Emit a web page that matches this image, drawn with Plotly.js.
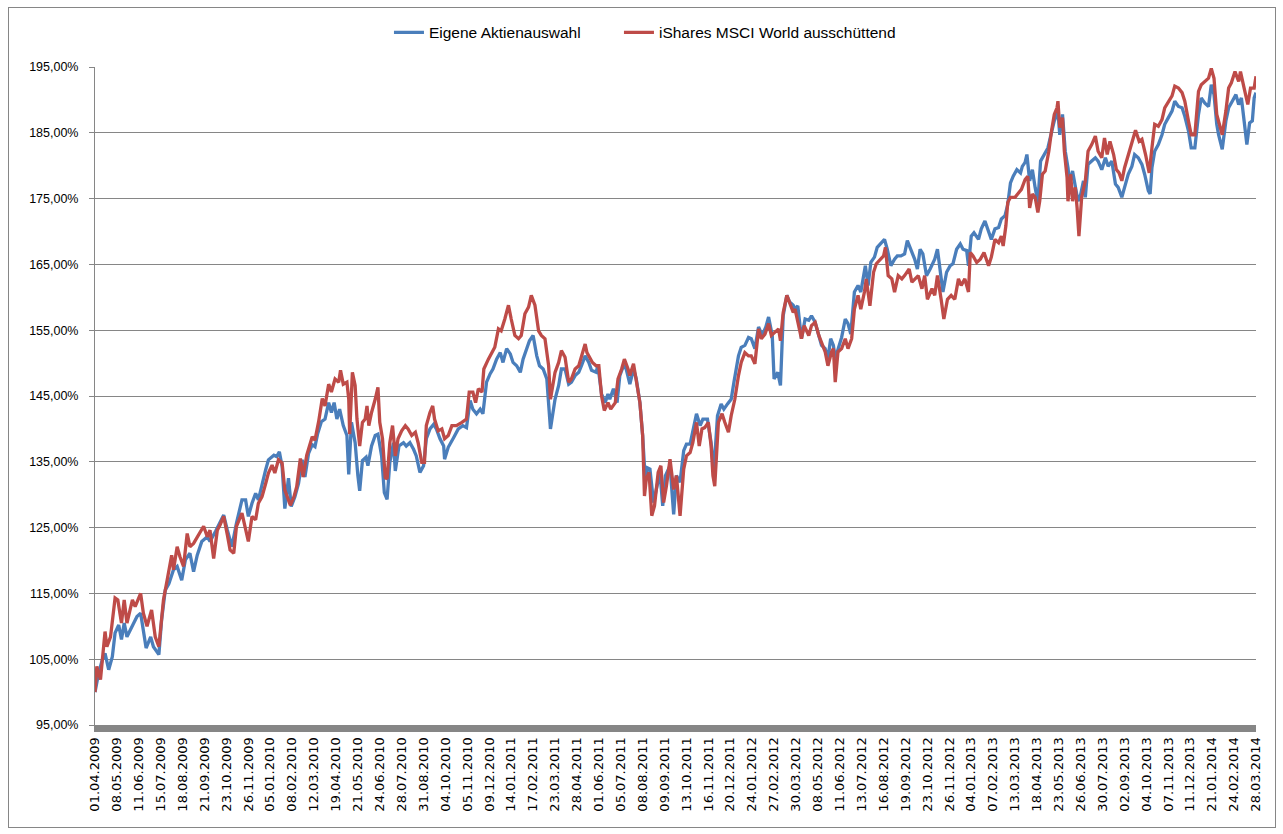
<!DOCTYPE html>
<html>
<head>
<meta charset="utf-8">
<script src="https://cdn.plot.ly/plotly-3.0.1.min.js"></script>
<style>
  body { margin: 0; background: #ffffff; }
  #wrap { position: relative; width: 1283px; height: 834px; }
  #chart { position: absolute; left: 0; top: 0; width: 1283px; height: 834px; }
  #frame { position: absolute; left: 8px; top: 7px; width: 1266px; height: 819px; border: 1px solid #868686; pointer-events: none; }
</style>
</head>
<body>
<div id="wrap"><div id="chart"></div><div id="frame"></div></div>
<script>
// Trading-day tick labels (every 24 trading days)
const tickLabels = ["01.04.2009","08.05.2009","11.06.2009","15.07.2009","18.08.2009","21.09.2009","23.10.2009","26.11.2009",
"05.01.2010","08.02.2010","12.03.2010","19.04.2010","21.05.2010","24.06.2010","28.07.2010","31.08.2010","04.10.2010","05.11.2010","09.12.2010",
"14.01.2011","17.02.2011","23.03.2011","28.04.2011","01.06.2011","05.07.2011","08.08.2011","09.09.2011","13.10.2011","16.11.2011","20.12.2011",
"24.01.2012","27.02.2012","30.03.2012","08.05.2012","11.06.2012","13.07.2012","16.08.2012","19.09.2012","23.10.2012","26.11.2012",
"04.01.2013","07.02.2013","13.03.2013","18.04.2013","23.05.2013","26.06.2013","30.07.2013","02.09.2013","04.10.2013","07.11.2013","11.12.2013",
"21.01.2014","24.02.2014","28.03.2014"];
const tickStep = 24;

const yTickVals = [95,105,115,125,135,145,155,165,175,185,195];

// Series 1: Eigene Aktienauswahl (trading-day index, value in %)
const ownIdx = [0,4,8,11,15,19,22,26,29,32,35,39,42,46,50,53,56,61,64,70,73,77,81,86,90,95,99,104,108,112,117,123,126,132,137,141,145,150,155,161,165,168,172,176,179,183,187,190,196,199,202,205,208,212,215,219,223,227,230,234,238,241,244,248,
252,256,259,262,265,268,272,276,278,281,285,288,290,293,297,299,303,307,310,314,317,320,323,327,329,333,338,341,345,349,352,356,360,363,367,371,374,378,382,383,387,393,398,403,407,411,414,418,422,425,429,433,436,440,444,447,451,455,458,462,466,469,473,476,480,484,487,491,495,499,504,508,511,515,
519,522,526,530,533,537,541,544,549,551,555,559,562,564,568,572,575,579,582,586,590,593,597,600,603,605,608,612,615,619,622,625,630,634,637,641,645,648,652,655,659,663,666,671,675,678,682,686,689,693,697,700,705,708,712,716,719,723,727,731,735,738,742,744,748,751,754,758,761,765,
767,770,774,778,782,785,789,793,796,800,803,806,809,811,814,818,822,825,828,832,836,839,844,847,850,854,857,861,865,868,872,876,879,883,887,890,894,898,901,904,907,911,915,920,923,927,929,933,937,940,944,948,951,955,957,960,963,968,971,975,979,982,986,990,993,997,1000,1003,1006,1010,1014,1016,1019,
1021,1024,1027,1030,1033,1036,1040,1044,1047,1051,1055,1057,1060,1063,1066,1068,1071,1074,1077,1080,1083,1085,1088,1092,1096,1099,1103,1107,1110,1114,1118,1121,1125,1128,1132,1136,1139,1143,1147,1150,1154,1156,1158,1161,1165,1169,1172,1176,1180,1183,1187,1191,1194,1198,1201,1205,1209,1212,1216,1220,1223,1226,1229,1231,1235,1239,1242,1246,1250,1253,1256,1259,1262,1265,1268,1270,1272];
const ownVal = [100,102.9,104.9,105.9,103.4,105.4,109,110.2,108,110.5,108.4,109.5,110.5,111.5,112,109,106.7,108.4,106.9,105.7,111,115.5,116.5,118.6,119.1,117,120.1,121.1,118.3,120.8,122.9,123.6,122.9,124.4,125.7,126.9,124.6,122.1,125.7,129.2,129.2,126.7,128.7,130.2,129.2,131.7,133.8,135.3,136,135.8,136.5,134.3,127.9,132.5,128.2,129.7,131.7,135.3,132.7,136.3,137.6,137.3,139.3,141.1,
141.5,144,142.5,144,141.5,143,140.5,139,133.1,141,137.9,132.9,130.6,135.2,135.7,134.4,137.4,139,139.2,135.9,130.3,129.3,134.9,137.9,133.6,137.4,137.9,137.4,137.9,136.9,135.9,133.4,134.4,138.5,140,140.7,140,138.5,137.4,135.4,137.2,138.7,140,140.5,140.2,144.3,143,142.3,143,142.3,147.1,148.4,149.1,150.6,151.6,150.1,152.2,151.4,150.1,149.6,148.6,150.6,152.4,153.4,154.2,151.1,149.6,149.1,147.6,140,144.5,146.6,149.1,149.1,
146.8,147.1,148.1,148.6,149.6,151.1,150.1,148.9,148.6,149.6,145.3,144,145.3,144.5,146.1,144,148.1,149.6,149.1,146.8,149.1,147.6,144,139,131.9,134.1,133.9,128.8,130.8,133.4,128.3,132.9,134.4,127,132.9,131.9,136.7,137.7,137.7,139.5,142.3,140.5,141.5,141.5,137.9,133.4,142,143.8,143,143.8,144.5,147.1,151.1,152.4,152.7,153.9,153.7,152.2,155.5,154.2,155.5,157,154.2,147.6,148.6,146.6,157.2,160.3,159.3,158.8,
158.2,158.7,153.7,156.7,156.5,157.2,156.2,154.2,152.7,152.2,150.7,153.7,152.7,150.7,152.2,153.9,156.7,156,154.4,160.8,161.8,160.8,164.8,161.8,165.3,166.1,167.6,168.3,168.8,167.3,164.8,165.8,166.3,166.3,166.6,168.6,167.3,165.8,164.3,167.3,166.6,163.3,164.3,165.8,167.3,162.8,160.8,163.8,164.8,165.1,167.3,168.1,167.3,167.1,164.8,169.3,169.8,168.8,170.4,171.6,169.8,168.8,170.4,170.6,171.9,172.4,174.1,177.4,178.4,179.4,178.9,179.9,180.5,
181.7,177.7,179.4,176.7,174.4,180.7,181.7,182.7,184.5,186.8,188.3,184.7,187.8,182.2,179.7,177.2,179.2,177.2,174.6,175.7,177.7,175.2,180.2,180.7,181.2,180.7,179.4,181.2,179.9,180.7,177.2,176.7,175.2,176.7,178.7,179.9,181.7,181.2,180.2,178.7,176.2,175.7,179.7,182.2,183.2,184.7,186.3,187.3,188.3,189.8,189,188.8,187.5,185.3,182.7,182.7,187.8,190.3,189.5,189,192.3,190.8,186.3,184.7,182.5,186.8,188.8,189.8,190.8,189.3,190.3,186.8,183.2,186.5,186.8,190.3,191.1];

// Series 2: iShares MSCI World ausschüttend
const msciIdx = [0,2,6,8,11,13,17,22,25,29,32,35,41,44,50,53,57,62,66,70,75,79,84,86,90,93,97,101,104,108,114,119,123,126,130,134,137,141,145,148,152,155,161,165,168,172,176,179,183,187,190,194,197,201,205,208,214,218,221,225,228,232,238,241,245,249,
252,256,259,263,267,269,272,276,278,279,282,285,287,290,293,296,298,300,303,307,310,312,315,318,320,323,326,329,332,336,340,343,347,351,354,358,361,363,367,370,372,376,380,383,387,391,396,402,407,410,414,417,420,424,426,431,435,438,442,445,449,453,456,460,464,467,471,475,478,482,486,489,493,497,499,504,508,511,515,
519,522,526,530,533,537,539,542,545,549,552,555,558,562,565,570,573,577,580,584,586,590,593,597,600,602,604,607,610,613,617,620,623,626,630,634,637,641,645,648,652,655,659,662,665,668,672,675,677,679,683,687,690,694,697,701,705,708,712,716,719,723,727,730,734,738,741,745,749,751,754,758,761,765,
767,771,774,777,782,785,789,793,796,800,803,807,809,811,814,818,822,825,829,832,836,839,843,845,849,853,856,860,864,866,869,873,876,880,884,887,892,895,898,902,906,909,912,917,920,923,927,930,934,938,942,946,949,953,957,959,962,966,970,974,979,982,986,990,993,995,998,1000,1003,1008,1012,1015,1019,
1022,1024,1027,1030,1033,1035,1038,1041,1045,1048,1051,1054,1055,1057,1060,1062,1065,1066,1069,1071,1074,1076,1078,1081,1085,1088,1092,1096,1099,1103,1106,1109,1112,1116,1119,1122,1125,1128,1132,1136,1140,1144,1147,1151,1155,1158,1161,1165,1169,1172,1176,1180,1183,1187,1191,1194,1198,1201,1205,1209,1212,1216,1220,1223,1226,1229,1231,1235,1239,1242,1245,1249,1253,1255,1259,1263,1266,1270,1272];
const msciVal = [100,103.9,101.9,105.4,109.2,106.9,108.4,114.3,114,110.5,114,110.5,114,113,115,112,110,112.5,108.4,106.9,114,117,120.8,118.6,122.1,120.6,119.1,124.1,122.1,122.6,124.1,125.2,123.6,124.6,120.3,124.6,125.4,126.7,123.9,121.6,121.1,125.2,127.2,124.9,122.9,126.7,126.2,128.7,129.7,131.7,133.3,134.5,133.3,135.3,134.8,130.7,128.4,129.7,131.2,135.5,132.7,136,138.8,138.3,141.1,144.6,
143.5,146.8,145.6,147.6,147.1,148.9,146.8,147.1,144.5,139.2,148.6,146.6,141.5,137.4,141,141.5,143.5,140.5,142.5,144.5,146.3,141,138.5,132.6,132.4,137.9,140.5,135.9,138.5,139.7,140.5,140,139,139.5,137.9,134.9,134.9,140.5,142.5,143.5,141.5,139.7,140,138.5,139,140.5,140.5,141,141.5,145.6,145.6,144,146.1,145.6,149.1,150.6,151.6,152.4,155.2,154.9,156.7,158.8,156.7,154.2,153.7,154.2,157.5,158.5,160.3,158.8,154.9,154.2,153.7,149.6,144.5,148.6,150.1,151.9,150.9,
147.1,147.6,149.1,149.6,150.9,152.9,151.6,150.9,150.1,149.6,149.6,145,142.8,144,143,144,147.6,149.1,150.6,149.1,148.1,149.9,147.6,144,139,129.8,132.4,133.4,126.8,128.3,133.4,134.4,128.8,131.3,135.4,130.8,132.9,126.8,133.9,135.9,136.4,137.9,141,137.4,140,140.2,141,137.4,132.9,131.3,141,142.3,141,139.5,142,144.5,148.1,150.1,151.6,151.1,151.1,149.9,155.2,153.7,154.4,156,154.2,154.7,155.2,153.4,157.7,160.3,159.3,157.7,
158.2,155.7,153.7,155.7,154.2,155.7,156.2,154.2,153.2,151.7,149.6,151.7,152.2,147.1,151.7,152.2,153.7,152.2,153.7,158.2,160.3,158.2,160.8,162.8,158.7,163.8,165.1,165.8,166.3,167.6,163.3,162.8,160.8,163.3,162.8,163.3,164.3,162.3,162.8,163.3,161.3,163.3,159.7,161.3,160.3,163.3,159.7,156.7,159.7,160.3,159.7,162.8,161.8,162.8,160.8,166.8,166.3,165.3,165.8,166.8,164.8,166.1,168.8,168.3,169.3,167.8,170.9,174.4,175.2,175.2,175.9,176.4,177.9,
178.4,173.6,175.7,175.2,172.9,174.6,178.7,179.2,182.2,185.3,187.8,188.8,189.8,185.8,187.3,182.2,178.2,174.6,178.7,174.6,176.7,173.6,169.3,175.2,177.7,182.2,183.2,184.5,182.2,181.2,184.2,181.7,183.7,181.7,179.4,178.9,177.7,179.7,181.7,183.7,185.4,183.7,184,181.7,178.9,182.7,186.3,186,187,188.8,189.8,190.6,192.1,191.8,191.1,189.8,186.8,184.7,184.7,191.3,192.3,192.8,193.3,194.8,193.3,187.8,186.8,184.7,188.3,191.8,192.6,194.3,192.8,194.3,191.8,189.3,191.8,191.8,193.6];

const tickVals = tickLabels.map((_, i) => i * tickStep);
const yTickText = yTickVals.map(v => v.toFixed(2).replace('.', ',') + '%');

const traces = [
  { x: ownIdx, y: ownVal, name: 'Eigene Aktienauswahl', type: 'scatter', mode: 'lines',
    line: { color: '#4A7EBB', width: 3.3 }, hoverinfo: 'skip', legend: 'legend' },
  { x: msciIdx, y: msciVal, name: 'iShares MSCI World ausschüttend', type: 'scatter', mode: 'lines',
    line: { color: '#BE4B48', width: 3.3 }, hoverinfo: 'skip', legend: 'legend2' }
];

const legendFont = { family: 'Liberation Sans, Arial, sans-serif', size: 15.5, color: '#000000' };

const layout = {
  width: 1283, height: 834,
  margin: { l: 95, r: 27, t: 67, b: 109 },
  paper_bgcolor: '#ffffff', plot_bgcolor: '#ffffff',
  showlegend: true,
  legend: { orientation: 'h', x: 0.2532, xanchor: 'left', y: 1.052, yanchor: 'middle',
            font: legendFont, bgcolor: 'rgba(0,0,0,0)' },
  legend2: { orientation: 'h', x: 0.4513, xanchor: 'left', y: 1.052, yanchor: 'middle',
            font: legendFont, bgcolor: 'rgba(0,0,0,0)' },
  xaxis: {
    range: [0, tickVals[tickVals.length - 1]],
    tickmode: 'array', tickvals: tickVals, ticktext: tickLabels,
    tickangle: -90, showgrid: false, zeroline: false,
    showline: true, linecolor: '#868686', linewidth: 7,
    ticks: '', tickfont: { family: 'DejaVu Sans, Verdana, sans-serif', size: 13, color: '#000000' },
    fixedrange: true
  },
  yaxis: {
    range: [95, 195],
    tickmode: 'array', tickvals: yTickVals, ticktext: yTickText,
    showgrid: true, gridcolor: '#868686', gridwidth: 1, zeroline: false,
    showline: true, linecolor: '#868686', linewidth: 1,
    ticks: 'outside', ticklen: 5, tickcolor: '#868686', ticklabelstandoff: 8,
    tickfont: { family: 'Liberation Sans, Arial, sans-serif', size: 12.5, color: '#000000' },
    fixedrange: true
  }
};

Plotly.newPlot('chart', traces, layout, { displayModeBar: false, staticPlot: true });
</script>
</body>
</html>
